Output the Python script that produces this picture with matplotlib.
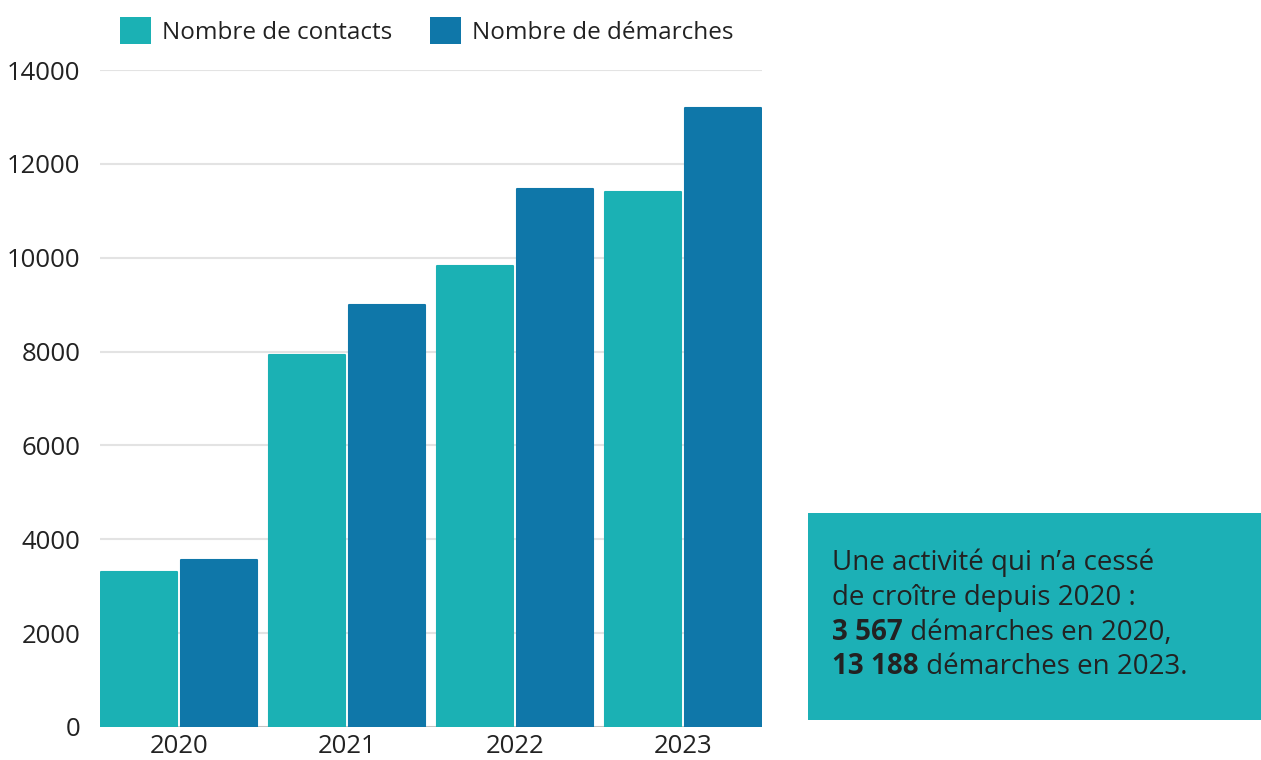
import numpy as np
import matplotlib
matplotlib.use('Agg')
import matplotlib.pyplot as plt
from matplotlib.patches import Patch

plt.rcParams['font.family'] = ['Open Sans', 'DejaVu Sans']

# data
years = ['2020', '2021', '2022', '2023']
contacts = [3300, 7930, 9830, 11400]
demarches = [3567, 9000, 11460, 13188]
series_names = ['Nombre de contacts', 'Nombre de démarches']
yticks = [0, 2000, 4000, 6000, 8000, 10000, 12000, 14000]

c_contacts = '#1bb1b4'
c_demarches = '#0f77a9'
c_box = '#1cb0b6'
txt = '#222222'

fig = plt.figure(figsize=(12.61, 7.6), dpi=100)
ax = fig.add_axes([100/1261, 1-727/760, 662/1261, 657/760])

x = np.arange(len(years))
w = 0.452
off = 0.238
ax.bar(x - off, contacts, w, color=c_contacts, edgecolor=c_contacts,
       linewidth=1.5, joinstyle='round', zorder=3)
ax.bar(x + off, demarches, w, color=c_demarches, edgecolor=c_demarches,
       linewidth=1.5, joinstyle='round', zorder=3)

ax.set_xlim(-0.47, 3.47)
ax.set_ylim(0, 14000)
ax.set_yticks(yticks)
ax.set_yticklabels([str(v) for v in yticks], fontsize=18.5, color=txt)
ax.set_xticks(x)
ax.set_xticklabels(years, fontsize=18.5, color=txt)
ax.tick_params(length=0, pad=14)
ax.tick_params(axis='x', pad=5)
for s in ax.spines.values():
    s.set_visible(False)
ax.grid(axis='y', color='#e3e3e3', linewidth=1.5, zorder=0)
ax.axhline(0, color='#bdbdbd', linewidth=1.2, zorder=2)

# legend on top
handles = [Patch(facecolor=c_contacts), Patch(facecolor=c_demarches)]
fig.legend(handles, series_names, loc='center left',
           bbox_to_anchor=(110/1261, 1-31/760), ncol=2, frameon=False,
           fontsize=17.5, handlelength=1.28, handleheight=1.28,
           handletextpad=0.45, columnspacing=1.55, borderaxespad=0,
           labelcolor=txt)

# callout box
bx = fig.add_axes([808/1261, 1-720/760, 453/1261, 207/760])
bx.set_xlim(0, 1)
bx.set_ylim(0, 1)
bx.axis('off')
bx.add_patch(plt.Rectangle((0, 0), 1, 1, color=c_box, transform=bx.transAxes))

fs = 20
x0 = 24/453
bx.text(x0, 1-(563-513)/207, "Une activité qui n’a cessé", fontsize=fs,
        color=txt, va='center')
bx.text(x0, 1-(598-513)/207, "de croître depuis 2020 :", fontsize=fs,
        color=txt, va='center')
b1 = bx.text(x0, 1-(632-513)/207, "3 567", fontsize=fs, color=txt,
             va='center', fontweight='bold')
bx.annotate(" démarches en 2020,", xy=(1, 0), xycoords=b1, fontsize=fs,
            color=txt, va='bottom', ha='left')
b2 = bx.text(x0, 1-(666-513)/207, "13 188", fontsize=fs, color=txt,
             va='center', fontweight='bold')
bx.annotate(" démarches en 2023.", xy=(1, 0), xycoords=b2, fontsize=fs,
            color=txt, va='bottom', ha='left')

fig.savefig('out.png', dpi=100)
